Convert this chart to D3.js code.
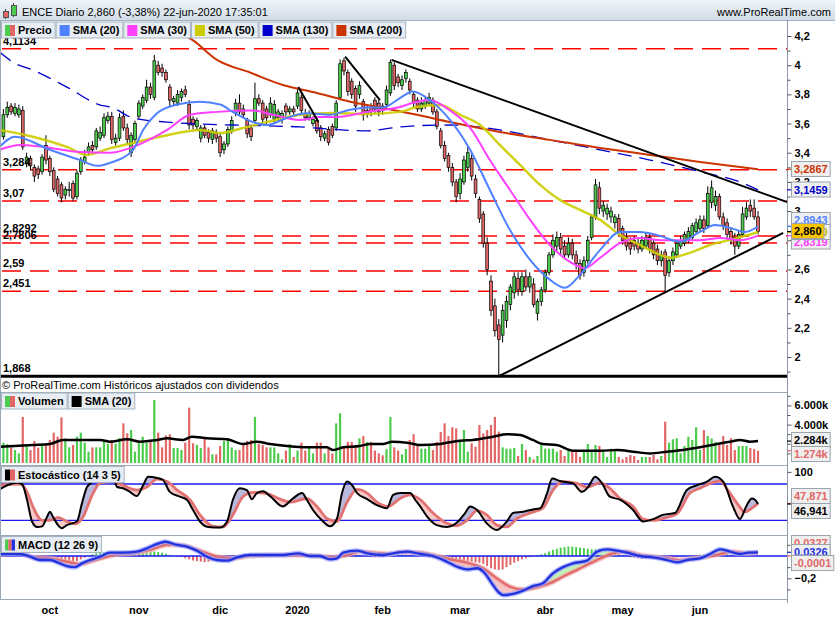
<!DOCTYPE html>
<html>
<head>
<meta charset="utf-8">
<title>ENCE Diario</title>
<script src="https://cdn.jsdelivr.net/npm/d3@7/dist/d3.min.js"></script>
<style>
  body { margin: 0; background: #fff; }
  text { font-family: Arial, "Liberation Sans", Helvetica, sans-serif; }
</style>
</head>
<body>
<svg id="chart" width="835" height="620"></svg>
<script>
// daily candles, 13-sep-2019 .. 22-jun-2020 (one entry per session)
var open = [3.51,3.66,3.72,3.67,3.66,3.69,3.33,3.36,3.30,3.29,
  3.27,3.45,3.36,3.28,3.22,3.18,3.11,3.14,3.19,3.10,
  3.27,3.34,3.40,3.45,3.44,3.50,3.52,3.62,3.65,3.47,
  3.50,3.65,3.57,3.40,3.49,3.65,3.72,3.76,3.85,3.78,
  4.00,3.98,3.95,3.85,3.75,3.74,3.78,3.83,3.73,3.63,
  3.58,3.50,3.57,3.54,3.49,3.54,3.51,3.42,3.46,3.55,
  3.67,3.74,3.70,3.62,3.57,3.62,3.77,3.74,3.70,3.66,
  3.63,3.64,3.63,3.72,3.68,3.70,3.72,3.78,3.67,3.64,
  3.60,3.62,3.57,3.50,3.56,3.58,3.57,3.78,4.03,3.95,
  3.89,3.84,3.80,3.75,3.67,3.71,3.76,3.74,3.72,3.73,
  3.81,4.00,3.92,3.86,3.91,3.89,3.80,3.76,
  3.70,3.72,3.74,3.76,3.68,3.55,3.45,3.38,3.30,3.20,
  3.12,3.20,3.30,3.36,3.22,3.08,2.98,2.78,2.52,2.35,
  2.22,2.15,2.25,2.36,2.44,2.54,2.45,2.55,2.48,2.50,
  2.30,2.38,2.46,2.58,2.70,2.76,2.82,2.76,2.70,2.78,
  2.70,2.64,2.58,2.66,2.82,2.96,3.16,3.00,2.98,2.96,
  2.92,2.95,2.88,2.82,2.78,2.80,2.78,2.74,2.76,2.82,
  2.78,2.74,2.66,2.72,2.58,2.66,2.70,2.76,2.78,2.80,
  2.82,2.86,2.88,2.94,2.90,3.06,3.04,3.10,2.96,2.92,
  2.86,2.82,2.76,2.84,2.96,3.04,3.02,2.96];
var high = [3.70,3.75,3.74,3.74,3.73,3.72,3.40,3.38,3.32,3.31,
  3.39,3.52,3.38,3.30,3.24,3.20,3.17,3.20,3.21,3.28,
  3.37,3.42,3.47,3.48,3.57,3.58,3.67,3.68,3.68,3.53,
  3.67,3.69,3.60,3.54,3.62,3.76,3.80,3.90,3.88,4.07,
  4.03,4.01,3.97,3.87,3.79,3.83,3.84,3.86,3.76,3.65,
  3.64,3.59,3.59,3.56,3.57,3.56,3.53,3.48,3.58,3.65,
  3.77,3.80,3.73,3.64,3.59,3.88,3.80,3.76,3.72,3.78,
  3.76,3.70,3.69,3.74,3.72,3.72,3.84,3.80,3.70,3.69,
  3.65,3.64,3.59,3.55,3.58,3.60,3.76,4.04,4.05,3.97,
  3.91,3.86,3.89,3.77,3.72,3.74,3.78,3.76,3.74,3.86,
  4.04,4.02,3.94,3.93,3.97,3.91,3.82,3.78,
  3.78,3.79,3.81,3.78,3.70,3.57,3.48,3.40,3.33,3.22,
  3.26,3.38,3.44,3.39,3.25,3.10,3.00,2.82,2.56,2.40,
  2.26,2.36,2.42,2.50,2.58,2.58,2.58,2.60,2.58,2.54,
  2.40,2.48,2.60,2.72,2.84,2.86,2.85,2.80,2.82,2.81,
  2.73,2.67,2.69,2.83,2.98,3.22,3.20,3.07,3.05,3.03,
  2.98,2.98,2.90,2.85,2.82,2.83,2.81,2.83,2.85,2.85,
  2.80,2.77,2.73,2.74,2.69,2.75,2.80,2.83,2.86,2.89,
  2.92,2.95,2.97,2.97,3.17,3.21,3.14,3.12,2.99,2.95,
  2.89,2.85,2.87,3.03,3.06,3.08,3.08,3.00];
var low = [3.49,3.64,3.66,3.65,3.64,3.42,3.30,3.28,3.20,3.22,
  3.25,3.32,3.24,3.13,3.10,3.06,3.08,3.10,3.07,3.08,
  3.25,3.32,3.38,3.40,3.42,3.48,3.50,3.60,3.46,3.45,
  3.48,3.55,3.46,3.37,3.47,3.63,3.70,3.74,3.77,3.76,
  3.93,3.92,3.88,3.71,3.72,3.72,3.75,3.78,3.56,3.56,
  3.55,3.47,3.50,3.47,3.46,3.47,3.37,3.39,3.44,3.53,
  3.65,3.66,3.64,3.50,3.48,3.60,3.72,3.60,3.59,3.64,
  3.60,3.61,3.60,3.65,3.66,3.65,3.70,3.66,3.62,3.62,
  3.58,3.53,3.48,3.48,3.45,3.50,3.55,3.76,3.93,3.79,
  3.77,3.68,3.77,3.62,3.64,3.65,3.67,3.65,3.66,3.71,
  3.79,3.83,3.85,3.83,3.88,3.80,3.71,3.68,
  3.68,3.70,3.72,3.66,3.56,3.43,3.34,3.27,3.17,3.06,
  3.08,3.18,3.27,3.21,3.09,2.92,2.75,2.56,2.28,2.14,
  1.868,2.10,2.20,2.32,2.40,2.42,2.42,2.45,2.44,2.34,
  2.25,2.35,2.44,2.56,2.68,2.72,2.70,2.67,2.68,2.67,
  2.60,2.53,2.55,2.64,2.80,2.94,2.98,2.96,2.94,2.92,
  2.88,2.83,2.77,2.73,2.70,2.73,2.71,2.72,2.74,2.71,
  2.67,2.63,2.62,2.44,2.55,2.63,2.68,2.74,2.76,2.78,
  2.80,2.84,2.86,2.85,2.88,3.02,3.00,2.94,2.87,2.81,
  2.77,2.70,2.74,2.82,2.94,2.96,2.94,2.84];
var close = [3.66,3.71,3.68,3.71,3.70,3.44,3.37,3.31,3.24,3.25,
  3.37,3.35,3.27,3.15,3.12,3.09,3.15,3.15,3.09,3.26,
  3.35,3.37,3.44,3.42,3.55,3.54,3.64,3.65,3.49,3.50,
  3.64,3.57,3.49,3.52,3.60,3.74,3.78,3.85,3.80,4.03,
  3.95,3.95,3.90,3.76,3.77,3.80,3.82,3.80,3.59,3.59,
  3.62,3.57,3.52,3.50,3.55,3.50,3.40,3.46,3.56,3.62,
  3.74,3.68,3.66,3.53,3.51,3.77,3.74,3.63,3.64,3.74,
  3.73,3.68,3.67,3.68,3.70,3.68,3.81,3.69,3.64,3.67,
  3.63,3.55,3.51,3.53,3.47,3.52,3.74,4.01,3.96,3.82,
  3.80,3.72,3.86,3.66,3.69,3.68,3.70,3.68,3.69,3.83,
  4.02,3.86,3.88,3.90,3.95,3.83,3.74,3.70,
  3.74,3.76,3.78,3.68,3.58,3.45,3.36,3.30,3.20,3.10,
  3.22,3.35,3.40,3.24,3.12,2.95,2.78,2.60,2.32,2.18,
  2.12,2.32,2.38,2.48,2.55,2.46,2.55,2.48,2.55,2.36,
  2.38,2.46,2.58,2.70,2.80,2.82,2.74,2.70,2.78,2.70,
  2.64,2.56,2.66,2.80,2.96,3.18,3.02,3.04,3.02,3.00,
  2.96,2.86,2.80,2.76,2.74,2.76,2.74,2.80,2.82,2.74,
  2.70,2.66,2.70,2.56,2.66,2.72,2.78,2.80,2.84,2.86,
  2.90,2.92,2.94,2.88,3.12,3.16,3.10,2.96,2.90,2.84,
  2.80,2.76,2.84,2.98,3.02,3.00,2.96,2.86];
// volume in thousands
var volume = [2120,1980,1630,1350,1000,4800,1770,1350,2290,1600,
  1880,1980,2400,3160,2740,4760,2570,1630,1880,2740,
  3160,2120,1180,1630,1630,1630,2290,1980,2400,2000,
  2600,4130,3090,3440,1180,2120,2740,2120,2400,6560,
  3160,1630,2880,3000,1560,1560,1350,2120,5760,2050,
  1880,1560,2570,1630,900,900,1770,2290,2570,1630,
  1350,1350,1980,2290,2400,4800,1980,1880,1630,1630,
  1630,1000,380,1300,1980,630,1300,2120,1300,1630,
  1000,2120,2120,1000,1560,1000,4130,5170,1560,2200,
  2200,1630,2570,2800,2200,2200,1300,1000,800,1450,
  4800,1630,1300,900,1450,2400,3000,1880,
  1490,1490,1770,1350,2200,3230,4130,2800,3720,3600,
  2200,3440,1180,2050,1700,3960,3090,3440,3960,4800,
  3260,1630,1490,1490,1550,730,1980,1350,630,380,
  730,1980,1490,1490,1490,1180,1350,730,1350,1350,
  1180,630,1350,1980,1350,1880,1770,1350,630,1490,
  1350,630,380,630,830,730,300,630,630,630,
  830,380,730,4300,2120,2470,2570,1000,1770,2740,
  2400,3720,1350,3440,2820,2570,2200,1980,2800,1880,
  2570,1350,1770,1770,1770,1560,1450,1274];
// MACD histogram per session
var macdHist = [0.015,0.02,0.02,0.015,0.01,0.005,-0.005,-0.01,-0.02,-0.025,
  -0.03,-0.03,-0.035,-0.04,-0.045,-0.05,-0.055,-0.06,-0.055,-0.045,
  -0.03,-0.015,0.005,0.015,0.025,0.03,0.035,0.035,0.03,0.03,
  0.025,0.02,0.015,0.015,0.02,0.025,0.03,0.035,0.04,0.04,
  0.035,0.03,0.02,0.01,0,-0.005,-0.01,-0.02,-0.03,-0.04,
  -0.045,-0.05,-0.055,-0.05,-0.045,-0.04,-0.03,-0.025,-0.015,-0.005,
  0.005,0.01,0.01,0.005,0.005,0.003,0,-0.003,0,0.003,
  0,0,0,0.005,0.005,0.003,-0.005,-0.01,-0.01,-0.01,
  -0.015,-0.015,-0.01,-0.005,-0.005,0.005,0.01,0.015,0.02,0.02,
  0.02,0.015,0.01,0,-0.005,-0.01,-0.012,-0.012,-0.01,-0.005,
  0.005,0.008,0.01,0.01,0.01,0.008,0.005,0.003,-0.005,-0.01,
  -0.015,-0.02,-0.025,-0.03,-0.035,-0.04,-0.045,-0.05,-0.055,-0.055,
  -0.05,-0.05,-0.055,-0.06,-0.07,-0.09,-0.11,-0.12,-0.125,-0.12,
  -0.1,-0.08,-0.06,-0.045,-0.03,-0.02,-0.01,0.005,0.01,0.015,
  0.025,0.04,0.055,0.065,0.075,0.08,0.085,0.085,0.08,0.075,
  0.07,0.065,0.06,0.06,0.065,0.055,0.045,0.035,0.025,0.015,
  0.005,-0.005,-0.01,-0.015,-0.02,-0.025,-0.025,-0.02,-0.02,-0.015,
  -0.015,-0.02,-0.02,-0.015,-0.01,-0.005,0,0.005,0.008,0.01,
  0.012,0.015,0.02,0.025,0.03,0.03,0.025,0.02,0.01,0,
  -0.005,-0.01,-0.005,0,0.002,-0.0001];

// moving averages read at [session index, value]
var sma20 = [[-1,3.44],[3,3.51],[12,3.42],[19.8,3.35],[24.2,3.31],[27.5,3.33],[33.5,3.42],[36.1,3.556],
  [39.7,3.67],[44.9,3.73],[50.8,3.75],[56,3.73],[59.3,3.68],[64.5,3.61],[68.1,3.59],[73.3,3.64],
  [78.4,3.67],[84.4,3.66],[88.8,3.69],[94,3.71],[98.1,3.71],[102.5,3.775],[105.8,3.82],[110.2,3.76],
  [115.4,3.625],[120.6,3.42],[125.7,3.145],[130.9,2.87],[136.1,2.666],[141.2,2.53],[145.1,2.474],
  [149,2.563],[154.2,2.734],[159.3,2.857],[164.5,2.857],[169.7,2.83],[174.8,2.79],[180,2.857],
  [183.9,2.905],[187.8,2.885],[191.6,2.857],[195,2.8943]];
var sma30 = [[-1,3.42],[4.3,3.453],[10.2,3.44],[19.8,3.405],[27.5,3.40],[33.5,3.44],[42.3,3.556],
  [48.2,3.66],[55.2,3.68],[64.5,3.69],[69.7,3.66],[76.6,3.625],[81.8,3.645],[86.2,3.645],[94,3.68],
  [102.5,3.714],[106.9,3.75],[110.2,3.76],[115.4,3.69],[120.6,3.57],[125.7,3.35],[130.9,3.145],
  [136.1,2.94],[141.2,2.768],[146.4,2.652],[150.3,2.61],[154.2,2.68],[159.3,2.78],[164.5,2.816],
  [169.7,2.80],[174.8,2.80],[180,2.80],[185.2,2.816],[190.3,2.80],[195,2.8319]];
var sma50 = [[-1,3.556],[7.6,3.51],[16.4,3.44],[21.6,3.385],[27.5,3.43],[33.5,3.467],[42.3,3.52],
  [50.8,3.556],[56,3.535],[61.9,3.57],[68.1,3.61],[76.6,3.66],[85.2,3.673],[94,3.666],[102.5,3.68],
  [106.9,3.714],[112.8,3.727],[118,3.66],[123.2,3.59],[128.3,3.453],[133.5,3.316],[138.7,3.18],
  [143.8,3.077],[149,3.008],[154.2,2.94],[159.3,2.837],[164.5,2.768],[169.7,2.70],[172.3,2.68],
  [177.4,2.714],[182.6,2.768],[187.8,2.803],[195,2.855]];
var sma130 = [[-1,4.09],[2.5,4.02],[7.6,3.967],[16.4,3.85],[25,3.727],[28,3.71],[33.5,3.638],
  [42.3,3.61],[50.8,3.597],[59.3,3.59],[68.1,3.584],[76.6,3.577],[85.2,3.56],[94,3.55],
  [102.5,3.577],[106.9,3.585],[115.4,3.59],[128.3,3.556],[141.2,3.488],[154.2,3.42],[167.1,3.35],
  [180,3.27],[190.3,3.2],[195,3.1459]];
var sma200 = [[45,4.23],[49,4.17],[55.2,4.036],[63.7,3.95],[72.2,3.864],[81,3.81],[89.6,3.75],
  [98.1,3.707],[106.9,3.66],[115.4,3.61],[128.3,3.542],[141.2,3.488],[154.2,3.433],[167.1,3.385],
  [180,3.337],[195,3.2867]];
var volSma20 = [[-1,1700],[7.6,1880],[12,1980],[15.4,2400],[20.6,2400],[25,2400],[27.5,2220],[32,2470],
  [35.3,2220],[39.7,2400],[42.3,2570],[46.4,2400],[48.7,2740],[52.6,2570],[57.8,2470],[61.9,1980],
  [65.5,2220],[68.9,1980],[73.3,1770],[78.4,1630],[83.6,1630],[85.2,1350],[87.8,1630],[92.1,1770],
  [94.7,1980],[98.1,1980],[100.4,2220],[104.3,2120],[107.7,1880],[112.8,1980],[118,2330],[121.3,2400],
  [126.5,2740],[130.1,2990],[133.5,2920],[136.8,2400],[139.4,1980],[143,1880],[147.2,1280],[154.2,1280],
  [158.6,1350],[162.7,1180],[167.1,1000],[171.5,1180],[175.6,1350],[180,1630],[184.4,1980],[187.8,2220],
  [190.3,2400],[192.9,2220],[195,2284]];

// stochastic (14 3 5)
var stochK = [[-1,71],[1,78],[3.5,82],[4.8,80],[6.1,54],[7.4,18],[8.7,9],[10,10],[11.3,26],[12,34],
  [12.8,26],[14.1,12],[15.1,7],[16.4,12],[17.7,15],[19,18],[20.3,48],[21.6,75],[23.2,84],[25,90],
  [28.3,90],[29.4,75],[30.9,73],[32.7,67],[34.5,60],[36.1,78],[37.4,92],[39.7,90],[41.2,87],[43,67],
  [45.6,59],[47.4,54],[49,37],[50.8,18],[52.9,9],[56,8],[57.8,18],[59.3,54],[61.1,73],[62.9,70],
  [64.2,55],[65.5,65],[67.1,68],[68.9,60],[72.2,43],[74.8,56],[77.2,65],[78.4,54],[80,37],[82.3,20],
  [84.4,10],[86.2,23],[87.5,65],[88.8,84],[90.1,78],[91.4,65],[94,55],[96.5,45],[99.1,40],[100.7,62],
  [102.5,65],[105.1,65],[106.4,54],[107.7,43],[109.5,26],[112,12],[114.6,9],[117.5,18],[119.3,32],
  [120.6,43],[122.4,37],[124.9,15],[127.5,4],[130.1,18],[131.7,32],[134.3,34],[136.8,38],[138.7,40],
  [140.5,65],[141.8,89],[143.8,85],[147.2,81],[149.5,67],[151.1,75],[152.9,92],[154.7,81],[156.7,59],
  [159.3,54],[162.7,37],[165.3,18],[167.9,22],[170.4,29],[173.5,32],[176.6,70],[179.2,78],[181.8,84],
  [183.9,92],[186,84],[188.5,43],[190.3,22],[192.1,45],[193.4,56],[194.2,54],[195,46.9]];
var stochD = [[-1,78],[4.3,80],[6.1,67],[7.6,43],[10,20],[12,20],[14.1,25],[16.4,18],[18.5,14],
  [20.6,26],[22.9,61],[25,82],[28.3,84],[30.9,78],[34.5,70],[37.1,75],[39.7,88],[42.3,84],[44.9,70],
  [48.2,54],[50.8,29],[54.2,10],[56.7,9],[59.3,29],[61.9,59],[64.5,66],[68.1,64],[71.5,55],[74.1,50],
  [78.4,56],[81,43],[83.6,23],[86.2,18],[88.8,50],[91.4,71],[94,65],[96.5,50],[99.4,43],[102.5,56],
  [105.1,62],[107.7,54],[111,32],[114.6,15],[117.2,11],[119.8,20],[122.4,36],[124.9,29],[127.5,12],
  [130.1,9],[132.7,23],[136.1,32],[139.4,40],[142,70],[144.6,84],[148.2,81],[150.8,75],[154.2,82],
  [156.7,73],[159.3,56],[162.7,43],[165.3,22],[167.9,20],[171.5,25],[174.1,31],[177.4,65],[180,73],
  [182.6,81],[185.2,85],[187.2,70],[189.6,48],[191.6,34],[193.4,40],[195,47.9]];

// MACD (12 26 9)
var macdLine = [[-1,0.018],[4.3,0.018],[6.9,-0.006],[9.5,-0.036],[12,-0.036],[14.6,-0.066],[16.4,-0.09],
  [18.5,-0.10],[20.3,-0.066],[22.4,-0.036],[25,-0.006],[27.5,0.03],[30.9,0.03],[34.5,0.039],[37.1,0.069],
  [39.7,0.108],[41.8,0.128],[44.9,0.099],[47.4,0.084],[50,0.048],[52.6,-0.006],[55.2,-0.036],[57.8,-0.042],
  [60.4,-0.012],[63.7,0.009],[68.1,0.009],[72.2,0.009],[76.1,0.024],[79.2,0],[81.8,0],[84.4,-0.03],
  [86.2,-0.021],[87.8,0.03],[91.4,0.048],[94,0.024],[98.1,0.009],[101.7,0.03],[104.3,0.039],[107.7,0.018],
  [111,0],[114.6,-0.051],[117.5,-0.10],[119.8,-0.12],[122.4,-0.11],[124.4,-0.155],[126.2,-0.245],
  [127.8,-0.32],[129.1,-0.35],[131.7,-0.34],[134.3,-0.31],[136.8,-0.27],[139.4,-0.245],[142,-0.155],
  [144.6,-0.10],[147.2,-0.066],[150.8,-0.042],[153.4,0.039],[156,0.06],[158.6,0.048],[161.1,0.03],
  [164.5,0],[167.9,-0.012],[171.5,-0.036],[174.1,-0.057],[176.6,-0.036],[180,-0.021],[182.6,0.018],
  [185.2,0.06],[187.8,0.039],[190.3,0.018],[192.4,0.03],[195,0.0326]];
var macdSignal = [[-1,0.018],[4.3,0.024],[7.6,-0.012],[12,-0.021],[16.4,-0.051],[19.8,-0.072],[23.2,-0.042],
  [26.8,-0.006],[30.1,0.018],[33.5,0.024],[37.9,0.054],[42.3,0.099],[45.6,0.099],[49,0.069],[52.6,0.024],
  [56,-0.012],[59.3,-0.021],[63.7,0],[72.2,0.009],[76.6,0.009],[81,0],[85.2,-0.012],[88.8,0.009],
  [92.1,0.039],[95.5,0.03],[99.9,0.018],[102.5,0.035],[107.7,0.03],[111,0.009],[115.4,-0.03],
  [119.8,-0.06],[123.9,-0.11],[127.5,-0.20],[130.9,-0.275],[134.3,-0.30],[137.9,-0.28],[141.2,-0.245],
  [144.6,-0.185],[148.2,-0.125],[151.6,-0.066],[154.9,-0.012],[157.5,0.024],[161.1,0.039],[164.5,0.009],
  [167.9,-0.006],[171.5,-0.021],[174.8,-0.036],[178.2,-0.021],[181.8,-0.006],[185.2,0.018],[188.5,0.039],
  [192.1,0.024],[195,0.0327]];

// drawn support / resistance
var levels = [4.1134, 3.284, 3.07, 2.8292, 2.7806, 2.59, 2.451];
var levelLabels = ["4,1134", "3,284", "3,07", "2,8292", "2,7806", "2,59", "2,451"];
var floorLevel = 1.868;
var trendLines = [
  [[76.2, 3.85], [81.4, 3.61]],
  [[88.3, 4.058], [97.3, 3.761]],
  [[100.3, 4.036], [202.5, 3.062]],
  [[128, 1.868], [201.5, 2.851]]
];
var monthLabels = ["oct", "nov", "dic", "2020", "feb", "mar", "abr", "may", "jun"];
var monthStart = [12, 35, 56, 76, 98, 118, 140, 160, 180];

(function chart() {
    var svg = d3.select("#chart");
    var defs = svg.append("defs");
    var AX = 787;
    var GREEN = "#4ccc4c", RED = "#e36666";

    var x = d3.scaleLinear().domain([0, 195]).range([3.4, 758.05]);
    var yP = d3.scaleLinear().domain([2, 4.2]).range([357, 36]);
    var yV = d3.scaleLinear().domain([0, 6000]).range([463, 405.4]);
    var yS = d3.scaleLinear().domain([0, 100]).range([532.4, 471.9]);
    var yM = d3.scaleLinear().domain([-0.2, 0]).range([578.3, 556]);

    function clip(id, y0, y1) {
        defs.append("clipPath").attr("id", id).append("rect")
            .attr("x", 0).attr("y", y0).attr("width", AX).attr("height", y1 - y0);
    }
    clip("cp-price", 21, 378);
    clip("cp-vol", 393, 465);
    clip("cp-sto", 466, 535);
    clip("cp-macd", 536, 599);

    var up = function (i) { return close[i] >= open[i]; };

    // header
    var grad = defs.append("linearGradient").attr("id", "hdr")
        .attr("x1", 0).attr("y1", 0).attr("x2", 0).attr("y2", 1);
    grad.append("stop").attr("offset", "0%").attr("stop-color", "#eef3f8");
    grad.append("stop").attr("offset", "100%").attr("stop-color", "#d2dde8");
    svg.append("rect").attr("width", 835).attr("height", 20).attr("fill", "url(#hdr)");
    svg.append("line").attr("x1", 0).attr("x2", 835).attr("y1", 20.5).attr("y2", 20.5)
        .attr("stroke", "#a3b3c3");
    // icon
    svg.append("line").attr("x1", 5.5).attr("x2", 5.5).attr("y1", 9).attr("y2", 19).attr("stroke", "#444");
    svg.append("rect").attr("x", 3.5).attr("y", 11.5).attr("width", 5).attr("height", 6)
        .attr("fill", RED).attr("stroke", "#555");
    svg.append("line").attr("x1", 13.5).attr("x2", 13.5).attr("y1", 3).attr("y2", 17).attr("stroke", "#444");
    svg.append("rect").attr("x", 11.5).attr("y", 5.5).attr("width", 5).attr("height", 10)
        .attr("fill", GREEN).attr("stroke", "#555");
    svg.append("text").attr("x", 22).attr("y", 15.5).style("font-size", "11px")
        .text("ENCE Diario 2,860 (-3,38%) 22-jun-2020 17:35:01");
    svg.append("text").attr("x", 831).attr("y", 15.5).attr("text-anchor", "end")
        .style("font-size", "11px").text("www.ProRealTime.com");

    // ---------- price panel ----------
    var gP = svg.append("g").attr("clip-path", "url(#cp-price)");

    gP.selectAll(".lvl").data(levels).enter().append("line")
        .attr("x1", 2).attr("x2", AX)
        .attr("y1", function (d) { return yP(d); }).attr("y2", function (d) { return yP(d); })
        .attr("stroke", "#ff0000").attr("stroke-width", 1.5).attr("stroke-dasharray", "19,9");
    gP.append("line").attr("x1", 0).attr("x2", AX)
        .attr("y1", yP(floorLevel)).attr("y2", yP(floorLevel))
        .attr("stroke", "#000").attr("stroke-width", 3);

    var bars = d3.range(close.length);
    gP.selectAll(".wick").data(bars).enter().append("line")
        .attr("x1", function (i) { return x(i); }).attr("x2", function (i) { return x(i); })
        .attr("y1", function (i) { return yP(high[i]); }).attr("y2", function (i) { return yP(low[i]); })
        .attr("stroke", "#000").attr("stroke-width", 1);
    gP.selectAll(".body").data(bars).enter().append("rect")
        .attr("x", function (i) { return x(i) - 1.4; })
        .attr("width", 2.8)
        .attr("y", function (i) { return yP(Math.max(open[i], close[i])); })
        .attr("height", function (i) { return Math.max(1, Math.abs(yP(open[i]) - yP(close[i]))); })
        .attr("fill", function (i) { return up(i) ? GREEN : RED; })
        .attr("stroke", "#000").attr("stroke-width", 0.7);

    gP.selectAll(".lvlLabel").data(levels).enter().append("text")
        .attr("x", 3).attr("y", function (d) { return yP(d) - 4; })
        .style("font-size", "11px").attr("font-weight", "bold")
        .text(function (d, i) { return levelLabels[i]; });
    gP.append("text").attr("x", 3).attr("y", yP(floorLevel) - 4)
        .style("font-size", "11px").attr("font-weight", "bold").text("1,868");

    var lineP = d3.line().x(function (d) { return x(d[0]); }).y(function (d) { return yP(d[1]); })
        .curve(d3.curveMonotoneX);
    gP.append("path").attr("d", lineP(sma130)).attr("fill", "none")
        .attr("stroke", "#0000cc").attr("stroke-width", 1.3).attr("stroke-dasharray", "14,8");
    gP.append("path").attr("d", lineP(sma200)).attr("fill", "none")
        .attr("stroke", "#cc3300").attr("stroke-width", 2);
    gP.append("path").attr("d", lineP(sma50)).attr("fill", "none")
        .attr("stroke", "#cccc00").attr("stroke-width", 2.5).attr("stroke-opacity", 0.9);
    gP.append("path").attr("d", lineP(sma30)).attr("fill", "none")
        .attr("stroke", "#ff40ff").attr("stroke-width", 2);
    gP.append("path").attr("d", lineP(sma20)).attr("fill", "none")
        .attr("stroke", "#4f80ff").attr("stroke-width", 2);

    var straight = d3.line().x(function (d) { return x(d[0]); }).y(function (d) { return yP(d[1]); });
    gP.selectAll(".trend").data(trendLines).enter().append("path")
        .attr("d", straight).attr("fill", "none").attr("stroke", "#000").attr("stroke-width", 2);

    svg.append("text").attr("x", 2).attr("y", 389).style("font-size", "11px")
        .text("\u00a9 ProRealTime.com  Hist\u00f3ricos ajustados con dividendos");

    // ---------- volume panel ----------
    var gV = svg.append("g").attr("clip-path", "url(#cp-vol)");
    gV.selectAll(".vbar").data(bars).enter().append("rect")
        .attr("x", function (i) { return x(i) - 1.1; }).attr("width", 2.2)
        .attr("y", function (i) { return yV(volume[i]); })
        .attr("height", function (i) { return yV(0) - yV(volume[i]); })
        .attr("fill", function (i) { return up(i) ? GREEN : RED; });
    var lineV = d3.line().x(function (d) { return x(d[0]); }).y(function (d) { return yV(d[1]); })
        .curve(d3.curveMonotoneX);
    gV.append("path").attr("d", lineV(volSma20)).attr("fill", "none")
        .attr("stroke", "#000").attr("stroke-width", 2.5);

    // difference fill between a primary line and a reference line
    function diffFill(g, a, b, yScale, top, bottom, colUp, colDown, id) {
        var below = d3.area().x(function (d) { return x(d[0]); }).y0(bottom)
            .y1(function (d) { return yScale(d[1]); }).curve(d3.curveMonotoneX);
        var above = d3.area().x(function (d) { return x(d[0]); }).y0(top)
            .y1(function (d) { return yScale(d[1]); }).curve(d3.curveMonotoneX);
        defs.append("clipPath").attr("id", id + "-b").append("path").attr("d", below(a));
        defs.append("clipPath").attr("id", id + "-a").append("path").attr("d", above(a));
        g.append("path").attr("clip-path", "url(#" + id + "-b)").attr("d", above(b)).attr("fill", colUp);
        g.append("path").attr("clip-path", "url(#" + id + "-a)").attr("d", below(b)).attr("fill", colDown);
    }

    // ---------- stochastic panel ----------
    var gS = svg.append("g").attr("clip-path", "url(#cp-sto)");
    diffFill(gS, stochK, stochD, yS, 460, 540, "#b9b9dd", "#f6c8c8", "sto");
    gS.selectAll(".sl").data([80, 20]).enter().append("line")
        .attr("x1", 0).attr("x2", AX)
        .attr("y1", function (d) { return yS(d); }).attr("y2", function (d) { return yS(d); })
        .attr("stroke", "#1a1aee").attr("stroke-width", 1.3);
    var lineS = d3.line().x(function (d) { return x(d[0]); }).y(function (d) { return yS(d[1]); })
        .curve(d3.curveMonotoneX);
    gS.append("path").attr("d", lineS(stochD)).attr("fill", "none")
        .attr("stroke", "#e27272").attr("stroke-width", 2.8);
    gS.append("path").attr("d", lineS(stochK)).attr("fill", "none")
        .attr("stroke", "#000").attr("stroke-width", 2);

    // ---------- MACD panel ----------
    var gM = svg.append("g").attr("clip-path", "url(#cp-macd)");
    gM.selectAll(".hbar").data(bars).enter().append("rect")
        .attr("x", function (i) { return x(i) - 1; }).attr("width", 2)
        .attr("y", function (i) { return Math.min(yM(0), yM(macdHist[i])); })
        .attr("height", function (i) { return Math.abs(yM(macdHist[i]) - yM(0)); })
        .attr("fill", function (i) { return macdHist[i] >= 0 ? GREEN : RED; });
    diffFill(gM, macdLine, macdSignal, yM, 530, 605, "#c2f2b8", "#f6c4c4", "macd");
    gM.append("line").attr("x1", 0).attr("x2", AX).attr("y1", yM(0)).attr("y2", yM(0))
        .attr("stroke", "#1a1aee").attr("stroke-width", 1.5);
    var lineM = d3.line().x(function (d) { return x(d[0]); }).y(function (d) { return yM(d[1]); })
        .curve(d3.curveMonotoneX);
    gM.append("path").attr("d", lineM(macdSignal)).attr("fill", "none")
        .attr("stroke", "#f2a8a8").attr("stroke-width", 5).attr("stroke-opacity", 0.7);
    gM.append("path").attr("d", lineM(macdSignal)).attr("fill", "none")
        .attr("stroke", "#e06868").attr("stroke-width", 2.2);
    gM.append("path").attr("d", lineM(macdLine)).attr("fill", "none")
        .attr("stroke", "#9aa2ff").attr("stroke-width", 5).attr("stroke-opacity", 0.7);
    gM.append("path").attr("d", lineM(macdLine)).attr("fill", "none")
        .attr("stroke", "#2233dd").attr("stroke-width", 2.3);

    // ---------- frames ----------
    var frame = "#9aa8b6";
    svg.append("line").attr("x1", 0.5).attr("x2", 0.5).attr("y1", 20).attr("y2", 600).attr("stroke", frame);
    svg.append("line").attr("x1", AX + 0.5).attr("x2", AX + 0.5).attr("y1", 20).attr("y2", 603).attr("stroke", "#8b99a8");
    svg.selectAll(".sep").data([392.5, 465.5, 535.5, 599.5]).enter().append("line")
        .attr("x1", 0).attr("x2", AX).attr("y1", function (d) { return d; }).attr("y2", function (d) { return d; })
        .attr("stroke", frame);

    // ---------- right axes ----------
    var comma = function (f) { return function (d) { return d3.format(f)(d).replace(".", ","); }; };
    var axisStyle = function (g) {
        g.select(".domain").remove();
        g.selectAll("line").attr("stroke", "#555");
        g.selectAll("text").style("font-size", "11px").attr("font-weight", "bold")
            .attr("font-family", "Arial, 'Liberation Sans', sans-serif").attr("fill", "#000");
    };
    var priceMajor = d3.range(10, 22).map(function (k) { return k / 5; });
    var priceMinor = d3.range(19, 43, 2).map(function (k) { return k / 10; });
    svg.append("g").attr("transform", "translate(" + (AX + 0.5) + ",0)")
        .call(d3.axisRight(yP).tickValues(priceMinor).tickSize(3).tickFormat(""))
        .call(axisStyle);
    svg.append("g").attr("transform", "translate(" + (AX + 0.5) + ",0)")
        .call(d3.axisRight(yP).tickValues(priceMajor).tickSize(4).tickPadding(3).tickFormat(comma("~g")))
        .call(axisStyle);

    svg.append("g").attr("transform", "translate(" + (AX + 0.5) + ",0)")
        .call(d3.axisRight(yV).tickValues([1000, 2000, 3000, 5000, 7000]).tickSize(3).tickFormat(""))
        .call(axisStyle);
    svg.append("g").attr("transform", "translate(" + (AX + 0.5) + ",0)")
        .call(d3.axisRight(yV).tickValues([4000, 6000]).tickSize(4).tickPadding(3)
            .tickFormat(function (d) { return d3.format(",")(d).replace(",", ".") + "k"; }))
        .call(axisStyle);

    svg.append("g").attr("transform", "translate(" + (AX + 0.5) + ",0)")
        .call(d3.axisRight(yS).tickValues([100]).tickSize(4).tickPadding(3))
        .call(axisStyle);

    svg.append("g").attr("transform", "translate(" + (AX + 0.5) + ",0)")
        .call(d3.axisRight(yM).tickValues([0.1, -0.1, -0.3]).tickSize(3).tickFormat(""))
        .call(axisStyle);
    svg.append("g").attr("transform", "translate(" + (AX + 0.5) + ",0)")
        .call(d3.axisRight(yM).tickValues([-0.2]).tickSize(4).tickPadding(3).tickFormat(comma("~g")))
        .call(axisStyle);

    // ---------- value boxes ----------
    function valueBox(yc, label, color, bg, markY) {
        var g = svg.append("g");
        g.append("line").attr("x1", AX).attr("x2", AX + 5).attr("y1", markY).attr("y2", markY)
            .attr("stroke", color === "#000" ? "#000" : color).attr("stroke-width", 1.2);
        var r = g.append("rect").attr("x", AX + 4.5).attr("y", yc - 7.5).attr("height", 15)
            .attr("fill", bg).attr("stroke", "#9aa4ae");
        var t = g.append("text").attr("x", AX + 7).attr("y", yc + 4)
            .style("font-size", "11px").attr("font-weight", "bold").attr("fill", color).text(label);
        r.attr("width", t.node().getComputedTextLength() + 5);
    }
    var BOX = "#efefef";
    valueBox(169, "3,2867", "#cc3300", BOX, yP(3.2867));
    valueBox(189.5, "3,1459", "#0000cc", BOX, yP(3.1459));
    valueBox(220, "2,8943", "#4f80ff", BOX, yP(2.8943));
    valueBox(241.5, "2,8319", "#ff40ff", BOX, yP(2.8319));
    valueBox(232, "2,8550", "#b8b800", BOX, yP(2.855));
    valueBox(231, "2,860", "#000", "#f8c400", yP(2.86));

    valueBox(440, "2.284k", "#000", BOX, yV(2284));
    valueBox(454, "1.274k", RED, BOX, yV(1274));

    valueBox(496, "47,871", RED, BOX, yS(47.871));
    valueBox(511, "46,941", "#000", BOX, yS(46.941));

    valueBox(543, "0,0327", RED, BOX, yM(0.0327));
    valueBox(552, "0,0326", "#2233dd", BOX, yM(0.0326));
    valueBox(563, "-0,0001", RED, BOX, yM(0));

    // ---------- legends ----------
    function legend(items, x0, y0) {
        var xPos = x0;
        items.forEach(function (it) {
            var g = svg.append("g");
            var rect = g.append("rect").attr("x", xPos + 0.5).attr("y", y0 + 0.5).attr("height", 16)
                .attr("fill", "#e7edf3").attr("stroke", "#a6b3c0");
            var n = it.colors.length;
            it.colors.forEach(function (c, k) {
                g.append("rect").attr("x", xPos + 4 + k * 10 / n).attr("y", y0 + 3.5)
                    .attr("width", 10 / n).attr("height", 11).attr("fill", c);
            });
            var t = g.append("text").attr("x", xPos + 17).attr("y", y0 + 12.8)
                .style("font-size", "11px").attr("font-weight", "bold").text(it.label);
            var w = t.node().getComputedTextLength() + 20;
            rect.attr("width", w);
            xPos += w + 1;
        });
    }
    legend([
        { label: "Precio", colors: [GREEN, RED] },
        { label: "SMA (20)", colors: ["#4f80ff"] },
        { label: "SMA (30)", colors: ["#ff40ff"] },
        { label: "SMA (50)", colors: ["#cccc00"] },
        { label: "SMA (130)", colors: ["#0000cc"] },
        { label: "SMA (200)", colors: ["#cc3300"] }
    ], 1, 21.5);
    legend([
        { label: "Volumen", colors: [GREEN, RED] },
        { label: "SMA (20)", colors: ["#000"] }
    ], 1, 392.5);
    legend([{ label: "Estoc\u00e1stico (14 3 5)", colors: ["#000", RED] }], 1, 466);
    legend([{ label: "MACD (12 26 9)", colors: [GREEN, RED, "#2233dd"] }], 1, 536);

    // ---------- date axis ----------
    svg.selectAll(".month").data(monthLabels).enter().append("text")
        .attr("x", function (d, i) { return x(monthStart[i]); })
        .attr("y", 613.5).attr("text-anchor", "middle")
        .style("font-size", "11px").attr("font-weight", "bold")
        .text(function (d) { return d; });
}());
</script>
</body>
</html>
